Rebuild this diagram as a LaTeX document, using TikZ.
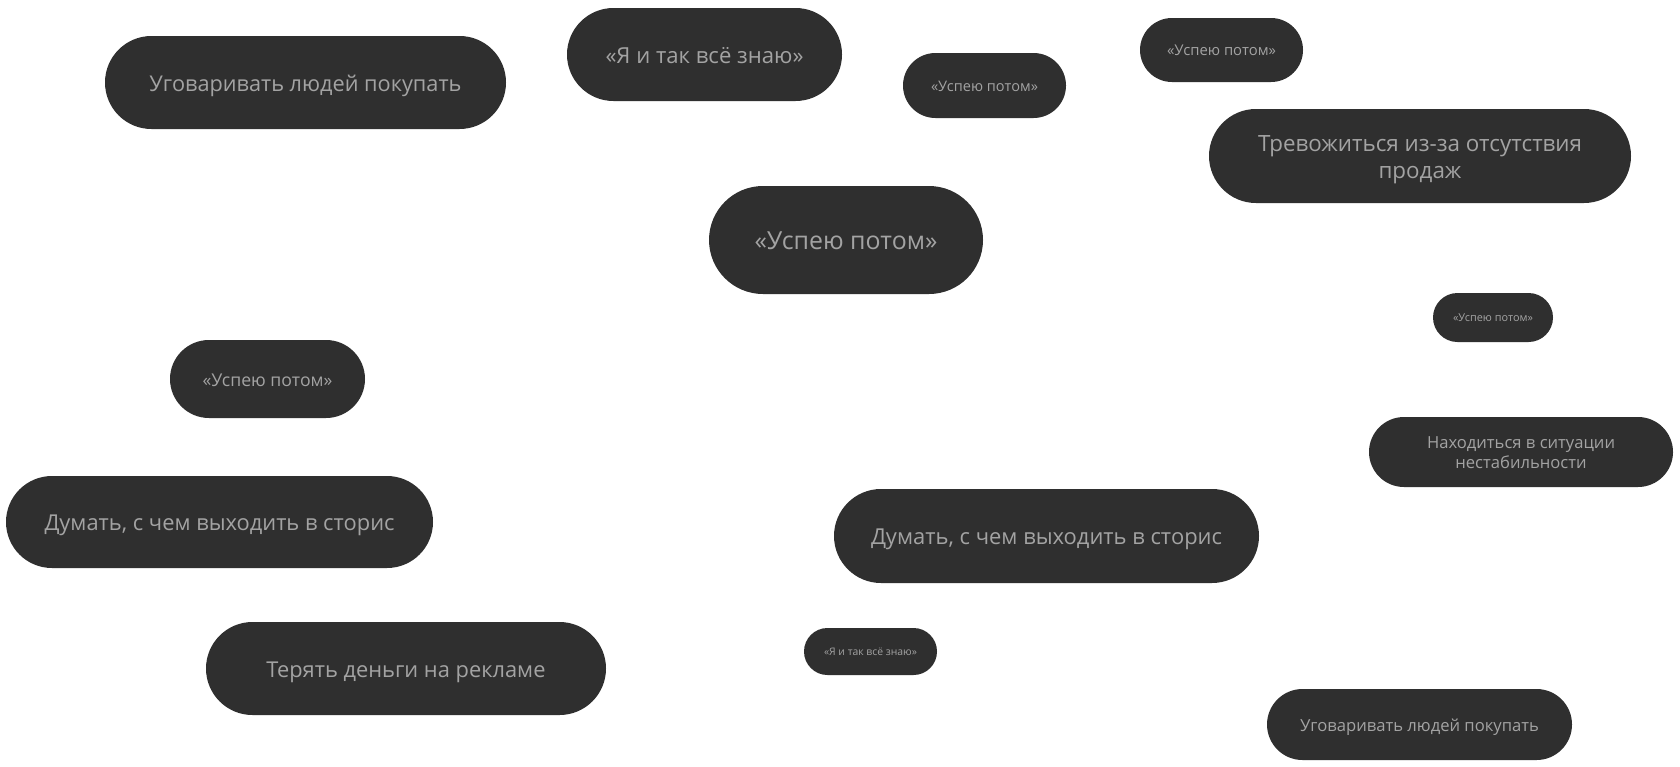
\documentclass[tikz,border=0pt]{standalone}
\usepackage{fontspec}
\setmainfont{Open Sans}
\usepackage{graphicx}
\definecolor{pillfill}{HTML}{2F2F2F}
\definecolor{pilltext}{HTML}{A3A3A3}
\tikzset{pill/.style={fill=pillfill, draw=none, inner sep=0pt, text=pilltext, align=center}}
\newcommand\pillnode[7]{%
  \pgfmathsetmacro\pw{(#4-#2)*0.5}%
  \pgfmathsetmacro\ph{(#5-#3)*0.5}%
  \pgfmathsetmacro\pr{(#5-#3)*0.25}%
  \pgfmathsetmacro\tw{#6*0.5}%
  \node[pill, minimum width=\pw pt, minimum height=\ph pt, rounded corners=\pr pt]
    (#1) at ({(#2+#4)/2},{(#3+#5)/2})
    {\resizebox{\tw pt}{!}{\raisebox{-0.3ex}[\height][\depth]{\begin{tabular}{@{}c@{}}#7\end{tabular}}}};}
\begin{document}
\begin{tikzpicture}[x=0.5pt,y=-0.5pt]
\useasboundingbox[fill=white] (0,0) rectangle (1680,766);
\pillnode{p1}{105}{36}{506}{129}{312}{Уговаривать людей покупать}
\pillnode{p2}{567}{8}{842}{101}{198}{«Я и так всё знаю»}
\pillnode{p3}{903}{53}{1066}{118}{107}{«Успею потом»}
\pillnode{p4}{1140}{18}{1303}{82}{109}{«Успею потом»}
\pillnode{p5}{1209}{109}{1631}{203}{324}{Тревожиться из-за отсутствия\\продаж}
\pillnode{p6}{709}{186}{983}{294}{183}{«Успею потом»}
\pillnode{p7}{1433}{293}{1553}{342}{80}{«Успею потом»}
\pillnode{p8}{1369}{417}{1673}{487}{188}{Находиться в ситуации\\нестабильности}
\pillnode{p9}{170}{340}{365}{418}{130}{«Успею потом»}
\pillnode{p10}{6}{476}{433}{568}{350}{Думать, с чем выходить в сторис}
\pillnode{p11}{834}{489}{1259}{583}{351}{Думать, с чем выходить в сторис}
\pillnode{p12}{206}{622}{606}{715}{279}{Терять деньги на рекламе}
\pillnode{p13}{804}{628}{937}{675}{93}{«Я и так всё знаю»}
\pillnode{p14}{1267}{689}{1572}{760}{239}{Уговаривать людей покупать}
\end{tikzpicture}
\end{document}
